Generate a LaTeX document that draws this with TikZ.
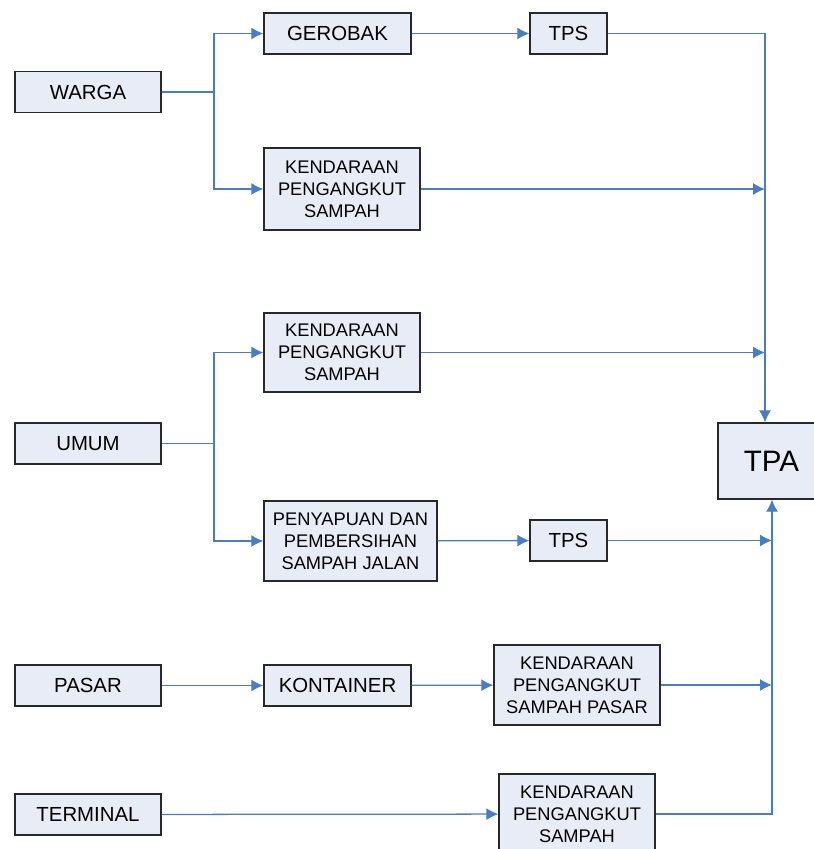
\documentclass[tikz,border=0pt]{standalone}
\usepackage{fontspec}
\setmainfont{Liberation Sans}
\usetikzlibrary{arrows.meta}
\definecolor{boxfill}{RGB}{231,236,246}
\definecolor{boxline}{RGB}{40,40,40}
\definecolor{linkblue}{RGB}{72,124,198}
\tikzset{
	box/.style={draw=boxline, fill=boxfill, line width=0.9pt, inner sep=0pt, align=center, font=\fontsize{14.5}{17}\selectfont},
	smalltext/.style={font=\fontsize{13}{15.6}\selectfont},
	link/.style={draw=linkblue, line width=0.9pt},
	arr/.style={link, -{Latex[length=0.3cm, width=0.3cm]}},
}

\begin{document}
\begin{tikzpicture}[x=0.025cm, y=-0.025cm]
			%%%%% START %%%%%
			\useasboundingbox (0, 0) rectangle (814, 849);
			
			\node[box, minimum width=3.65cm, minimum height=1.025cm] (warga) at (88, 92) {WARGA};
			\node[box, minimum width=3.65cm, minimum height=1.025cm] (umum) at (88, 443.5) {UMUM};
			\node[box, minimum width=3.65cm, minimum height=1.025cm] (pasar) at (88, 685.5) {PASAR};
			\node[box, minimum width=3.65cm, minimum height=1.025cm] (terminal) at (88, 814.5) {TERMINAL};
			
			\node[box, minimum width=3.675cm, minimum height=1.025cm] (gerobak) at (337.5, 33.5) {GEROBAK};
			\node[box, minimum width=1.925cm, minimum height=1.025cm] (tpsa) at (568.5, 33.5) {TPS};
			\node[box, smalltext, minimum width=3.9cm, minimum height=2.05cm] (kenda) at (342, 189) {KENDARAAN\\PENGANGKUT\\SAMPAH};
			
			\node[box, smalltext, minimum width=3.9cm, minimum height=1.975cm] (kendb) at (342, 352.5) {KENDARAAN\\PENGANGKUT\\SAMPAH};
			\node[box, smalltext, minimum width=4.325cm, minimum height=2cm] (sapu) at (350.5, 541) {PENYAPUAN DAN\\PEMBERSIHAN\\SAMPAH JALAN};
			\node[box, minimum width=1.925cm, minimum height=1.025cm] (tpsb) at (568.5, 540.5) {TPS};
			
			\node[box, minimum width=3.675cm, minimum height=1.025cm] (kontainer) at (337.5, 685.5) {KONTAINER};
			\node[box, smalltext, minimum width=4.15cm, minimum height=2cm] (kendp) at (577, 685) {KENDARAAN\\PENGANGKUT\\SAMPAH PASAR};
			\node[box, smalltext, minimum width=3.9cm, minimum height=2cm] (kendc) at (577, 814) {KENDARAAN\\PENGANGKUT\\SAMPAH};
			
			\node[box, font=\fontsize{21}{25}\selectfont, minimum width=2.675cm, minimum height=1.9cm] (tpa) at (771.5, 461) {TPA};
			
			\coordinate (splita) at (214, 92);
			\coordinate (splitb) at (214, 443.5);
			\coordinate (busa) at (765, 0);
			\coordinate (busb) at (772, 0);
			
			% warga
			\draw[link] (warga) -- (splita);
			\draw[arr] (splita) |- (gerobak);
			\draw[arr] (splita) |- (kenda);
			\draw[arr] (gerobak) -- (tpsa);
			\draw[arr] (tpsa.east) -| (tpa.north -| busa);
			\draw[arr] (kenda.east) -- (kenda.east -| busa);
			
			% umum
			\draw[link] (umum) -- (splitb);
			\draw[arr] (splitb) |- (kendb);
			\draw[arr] (splitb) |- (sapu);
			\draw[arr] (kendb.east) -- (kendb.east -| busa);
			\draw[arr] (sapu) -- (tpsb);
			\draw[arr] (tpsb.east) -- (tpsb.east -| busb);
			
			% pasar, terminal
			\draw[arr] (pasar) -- (kontainer);
			\draw[arr] (kontainer) -- (kendp);
			\draw[arr] (kendp.east) -- (kendp.east -| busb);
			\draw[arr] (terminal) -- (kendc);
			\draw[arr] (kendc.east) -| (tpa.south -| busb);
			
			%%%%% END %%%%%
\end{tikzpicture}
\end{document}
